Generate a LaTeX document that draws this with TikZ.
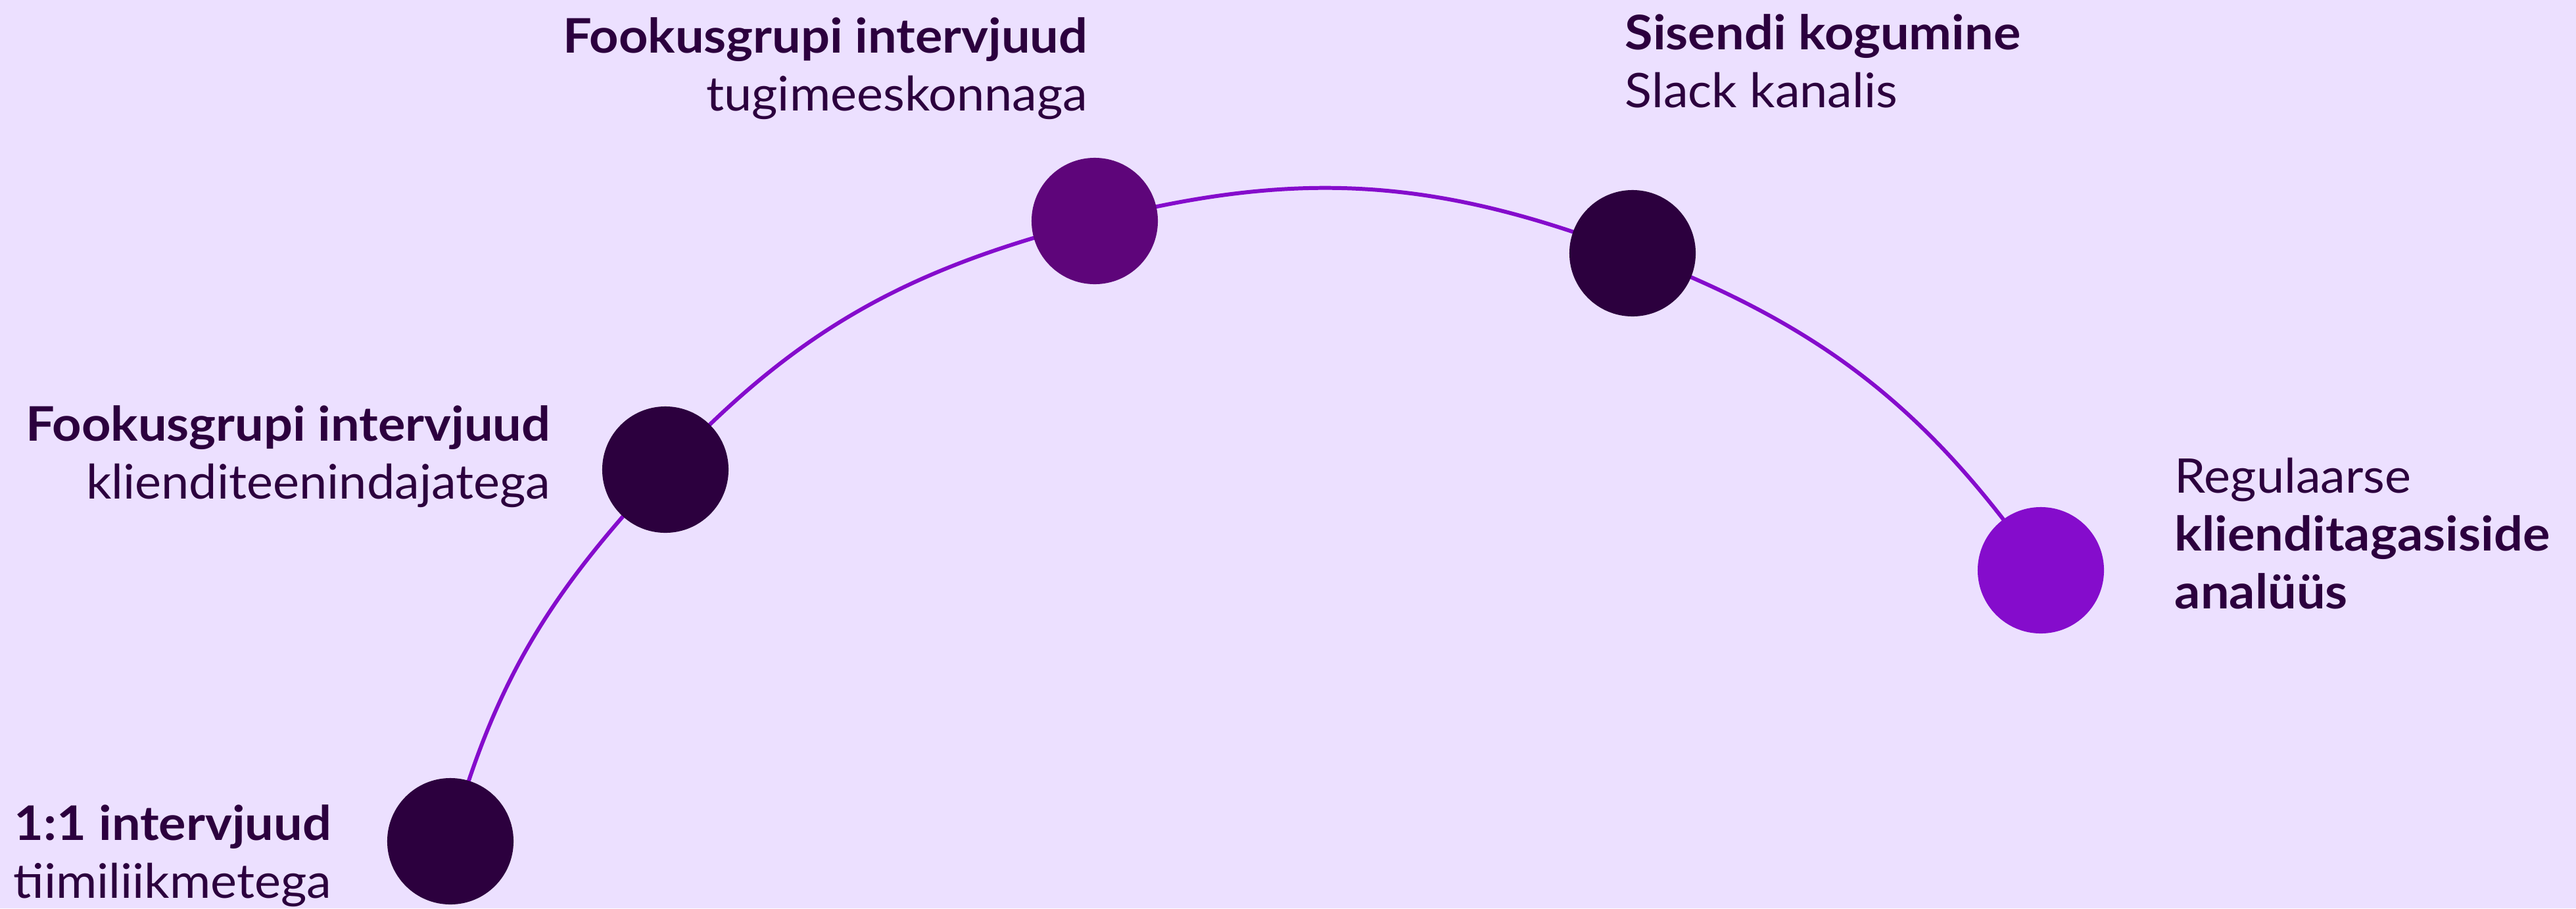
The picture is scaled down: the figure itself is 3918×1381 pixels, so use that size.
\documentclass[tikz,border=0pt]{standalone}
\usepackage{fontspec}
\setmainfont{Lato}[FakeStretch=1.045,BoldFeatures={FakeStretch=1.07}]
\usetikzlibrary{positioning}
\definecolor{lilacbg}{HTML}{ECE0FF}
\definecolor{plumdark}{HTML}{2C003E}
\definecolor{plummid}{HTML}{5E057A}
\definecolor{violet}{HTML}{850CCC}
\pgfdeclarelayer{back}
\pgfsetlayers{back,main}
\tikzset{
  dot/.style={circle,minimum size=1.92cm,inner sep=0pt,fill=#1},
  lbl/.style={inner sep=0pt,text=plumdark,font=\fontsize{20.6}{24.9}\selectfont},
  arc/.style={line width=1.7pt,violet}
}

\begin{document}
\begin{tikzpicture}[x=0.01cm,y=0.01cm]
	\useasboundingbox (0,0) rectangle (3918,-1381);
	\node [dot=plumdark] (d1) at (685,-1279) {};
	\node [dot=plumdark] (d2) at (1012,-714) {};
	\node [dot=plummid]  (d3) at (1665,-336) {};
	\node [dot=plumdark] (d4) at (2483,-385) {};
	\node [dot=violet]   (d5) at (3104,-867) {};
	\node [lbl,align=right,anchor=base east] (t1) at (505,-1365) {\textbf{1:1 intervjuud}\\tiimiliikmetega};
	\node [lbl,align=right,anchor=base east] (t2) at (838,-758) {\textbf{Fookusgrupi intervjuud}\\klienditeenindajatega};
	\node [lbl,align=right,anchor=base east] (t3) at (1655,-168) {\textbf{Fookusgrupi intervjuud}\\tugimeeskonnaga};
	\node [lbl,align=left,anchor=base west] (t4) at (2471,-163) {\textbf{Sisendi kogumine}\\Slack kanalis};
	\node [lbl,align=left,anchor=base west] (t5) at (3307,-925) {Regulaarse\\\textbf{klienditagasiside}\\\textbf{analüüs}};
	\begin{pgfonlayer}{back}
		\fill [lilacbg] (0,0) rectangle (3918,-1381);
		\draw [arc] (d1.center) to[out=74.6,in=-133.2] (d2.center) to[out=46.8,in=-165.6] (d3.center)
			to[out=14.4,in=159] (d4.center) to[out=-21,in=125.1] (d5.center);
	\end{pgfonlayer}
\end{tikzpicture}
\end{document}
